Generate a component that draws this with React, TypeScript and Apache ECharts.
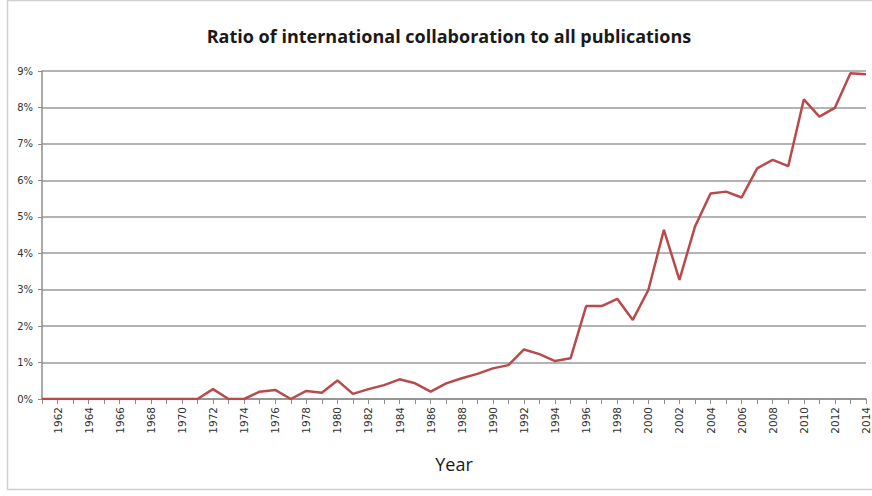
import React, { useEffect, useRef } from "react";
import * as echarts from "echarts";

const titleText = "Ratio of international collaboration to all publications";
const xAxisName = "Year";
const years: string[] = [];
for (let y = 1961; y <= 2014; y++) years.push(String(y));

// percent values, 1961..2014
const ratio: number[] = [
  0, 0, 0, 0, 0, 0, 0, 0, 0, 0, // 1961-1970
  0, 0.27, 0, 0, 0.2, 0.25, 0, 0.22, 0.17, 0.51, // 1971-1980
  0.14, 0.27, 0.38, 0.54, 0.43, 0.2, 0.43, 0.57, 0.69, 0.84, // 1981-1990
  0.93, 1.36, 1.23, 1.04, 1.12, 2.55, 2.55, 2.75, 2.17, 2.99, // 1991-2000
  4.64, 3.27, 4.73, 5.64, 5.69, 5.53, 6.33, 6.56, 6.39, 8.22, // 2001-2010
  7.75, 7.99, 8.94, 8.91, // 2011-2014
];

const yMin = 0;
const yMax = 9;
const yStep = 1;

export default function App() {
  const ref = useRef<HTMLDivElement>(null);
  useEffect(() => {
    if (!ref.current) return;
    const chart = echarts.init(ref.current, undefined, { renderer: "svg" });
    chart.setOption({
      animation: false,
      backgroundColor: "#ffffff",
      title: {
        text: titleText,
        left: 444,
        textAlign: "center",
        top: 22,
        textStyle: {
          fontFamily: "Open Sans",
          fontSize: 18,
          fontWeight: "bold",
          color: "#1a1a1a",
        },
      },
      graphic: [
        {
          type: "rect",
          shape: { x: 7.5, y: 0.5, width: 880, height: 489 },
          style: { fill: "none", stroke: "#d0d0d0", lineWidth: 1.5 },
          silent: true,
        },
      ],
      grid: { left: 42, right: 6, top: 71, bottom: 97 },
      xAxis: {
        type: "category",
        data: years,
        boundaryGap: false,
        name: xAxisName,
        nameLocation: "middle",
        nameGap: 56,
        nameTextStyle: { fontFamily: "Open Sans", fontSize: 18, color: "#1a1a1a" },
        axisLine: { lineStyle: { color: "#8c8c8c", width: 1.5 } },
        axisTick: { show: true, interval: 0, length: 5, lineStyle: { color: "#8c8c8c" } },
        axisLabel: {
          interval: (index: number) => index % 2 === 1,
          rotate: 90,
          margin: 8,
          fontFamily: "DejaVu Sans",
          fontSize: 10.5,
          color: "#333333",
        },
        splitLine: { show: false },
      },
      yAxis: {
        type: "value",
        min: yMin,
        max: yMax,
        interval: yStep,
        axisLine: { show: true, lineStyle: { color: "#8c8c8c", width: 1.5 } },
        axisTick: { show: true, length: 4, lineStyle: { color: "#8c8c8c" } },
        axisLabel: {
          formatter: "{value}%",
          margin: 9,
          fontFamily: "DejaVu Sans",
          fontSize: 10,
          color: "#333333",
        },
        splitLine: { show: true, lineStyle: { color: "#9a9a9a", width: 1.5 } },
      },
      series: [
        {
          type: "line",
          data: ratio,
          symbol: "none",
          lineStyle: { color: "#b94a4c", width: 2.5 },
          itemStyle: { color: "#b94a4c" },
        },
      ],
    });
    return () => chart.dispose();
  }, []);
  return (
    <div
      ref={ref}
      style={{ position: "fixed", left: 0, top: 0, width: 872, height: 496 }}
    />
  );
}
